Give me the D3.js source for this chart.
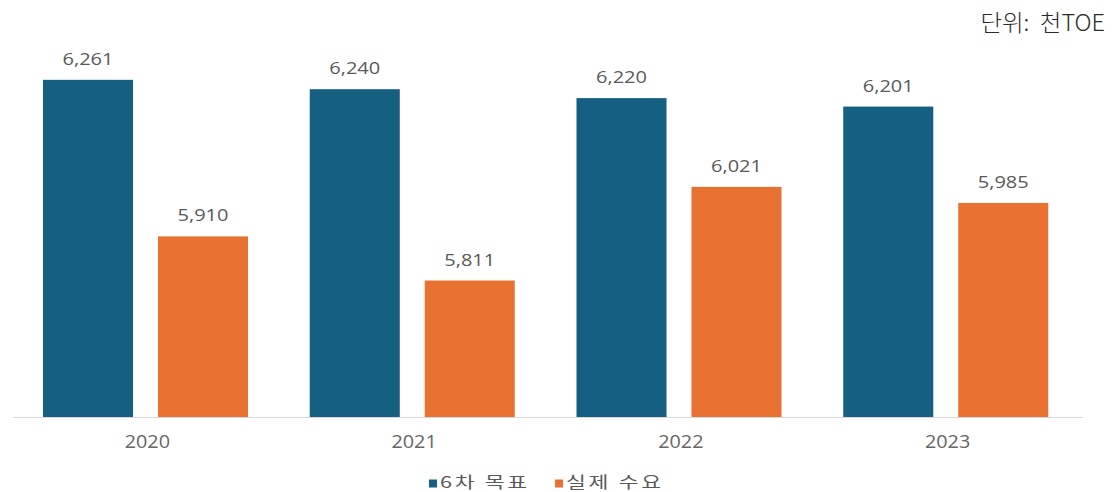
<!DOCTYPE html>
<html>
<head>
<meta charset="utf-8">
<script src="https://cdn.jsdelivr.net/npm/d3@7"></script>
<style>
  html, body { margin: 0; padding: 0; background: #fff; }
  svg { display: block; }
  text { white-space: pre; }
</style>
</head>
<body>
<svg id="chart" width="1112" height="492"></svg>
<script>
// Years on the x axis
const years = ["2020", "2021", "2022", "2023"];
// 6차 목표 (target) and 실제 수요 (actual demand), 천TOE
const targetValues = [6261, 6240, 6220, 6201];
const actualValues = [5910, 5811, 6021, 5985];
// Series names and colours for the legend
const seriesNames = ["6차 목표", "실제 수요"];
const seriesColors = ["#156082", "#E97132"];
const unitLabel = "단위:  천TOE";

const rows = years.map((y, i) => ({ year: y, values: [targetValues[i], actualValues[i]] }));

const svg = d3.select("#chart");
const fmt = d3.format(",");
const latin = "'Open Sans', 'Noto Sans', sans-serif";
const korean = "'Noto Sans CJK KR', 'Noto Sans', sans-serif";

const baseY = 417;
const x0 = d3.scaleBand().domain(years).range([14, 1081]);
const x1 = d3.scaleBand().domain([0, 1]).range([29, 234]).paddingInner(0.217);
const y = d3.scaleLinear().domain([5505, 6400]).range([baseY, baseY - 895 * 0.446]);

// Bars
const groups = svg.append("g").selectAll("g").data(rows).join("g")
  .attr("transform", d => `translate(${x0(d.year)},0)`);

const marks = d => d.values.map((v, k) => ({ v, k }));

groups.selectAll("rect").data(marks).join("rect")
  .attr("x", d => x1(d.k))
  .attr("width", x1.bandwidth())
  .attr("y", d => y(d.v))
  .attr("height", d => baseY - y(d.v))
  .attr("fill", d => seriesColors[d.k]);

// Value labels (set in a wide face, stretched horizontally)
groups.selectAll("text").data(marks).join("text")
  .attr("transform", d => `translate(${x1(d.k) + x1.bandwidth() / 2},${y(d.v) - 15}) scale(1.25,1)`)
  .attr("text-anchor", "middle")
  .attr("font-family", latin)
  .attr("font-size", 16)
  .attr("fill", "#595959")
  .text(d => fmt(d.v));

// X axis
const xAxis = svg.append("g")
  .attr("transform", `translate(0,${baseY})`)
  .call(d3.axisBottom(x0).tickSize(0).tickPadding(0).tickSizeOuter(0));
xAxis.select(".domain").attr("stroke", "#d9d9d9").attr("stroke-width", 1)
  .attr("d", "M13,0.5H1083");
xAxis.selectAll(".tick text")
  .attr("y", 31)
  .attr("dy", null)
  .attr("transform", "scale(1.1,1)")
  .attr("font-family", latin)
  .attr("font-size", 18)
  .attr("fill", "#666");

// Unit label
svg.append("text")
  .attr("transform", "translate(1105,31) scale(1.02,1)")
  .attr("text-anchor", "end")
  .attr("font-family", korean)
  .attr("font-size", 23)
  .attr("font-weight", 300)
  .attr("fill", "#2a2a2a")
  .text(unitLabel);

// Legend
const legendX = [429, 555];
const legend = svg.append("g").selectAll("g").data(seriesNames).join("g")
  .attr("transform", (d, i) => `translate(${legendX[i]},479.5)`);
legend.append("rect")
  .attr("x", 0).attr("y", 0).attr("width", 8).attr("height", 8)
  .attr("fill", (d, i) => seriesColors[i]);
legend.append("text")
  .attr("transform", "translate(11,8.5) scale(1.35,1)")
  .attr("font-family", korean)
  .attr("font-size", 16)
  .attr("letter-spacing", 2)
  .attr("fill", "#595959")
  .text(d => d);
</script>
</body>
</html>
